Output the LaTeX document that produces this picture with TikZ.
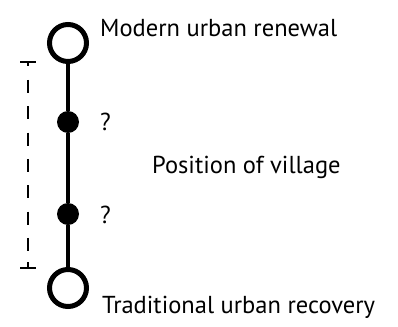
\documentclass[tikz,border=0pt]{standalone}
\usepackage{fontspec}
\setmainfont{PT Sans}
\usepackage{tikz}
\usetikzlibrary{calc}

\begin{document}
\begin{tikzpicture}[x=1pt, y=-1pt,
    endpoint/.style={draw, circle, line width=5pt, fill=white,
                     minimum size=37pt, inner sep=0pt},
    village/.style={circle, fill=black, minimum size=22pt, inner sep=0pt},
    txt/.style={anchor=base west, inner sep=0pt,
                font=\fontsize{24.5}{29}\selectfont},
    spanline/.style={line width=2.8pt}]
  \useasboundingbox (0,0) rectangle (398,326);
  \node[endpoint] (modern) at (68,43) {};
  \node[endpoint] (traditional) at (68,288) {};
  \node[village] (upper) at (68,122) {};
  \node[village] (lower) at (68,214) {};
  \draw[line width=4.3pt] (modern) -- (upper) -- (lower) -- (traditional);
  % span of possible positions
  \coordinate (rtop) at (28,62);
  \coordinate (rbot) at (28,268);
  \draw[spanline] ([xshift=-8pt]rtop) -- ([xshift=8pt]rtop) (rtop) -- ++(0,4);
  \draw[spanline] ([xshift=-8pt]rbot) -- ([xshift=8pt]rbot) (rbot) -- ++(0,-6);
  \draw[spanline, dash pattern=on 13pt off 13.33pt]
    ($(rtop)+(0,18)$) -- ($(rbot)+(0,-17)$);
  % texts
  \node[txt] (renewal) at (100,37) {Modern urban renewal};
  \node[txt] (q1) at (100,130) {?};
  \node[txt] (position) at (152,173) {Position of village};
  \node[txt] (q2) at (100,223) {?};
  \node[txt] (recovery) at (102,313) {Traditional urban recovery};
\end{tikzpicture}
\end{document}
